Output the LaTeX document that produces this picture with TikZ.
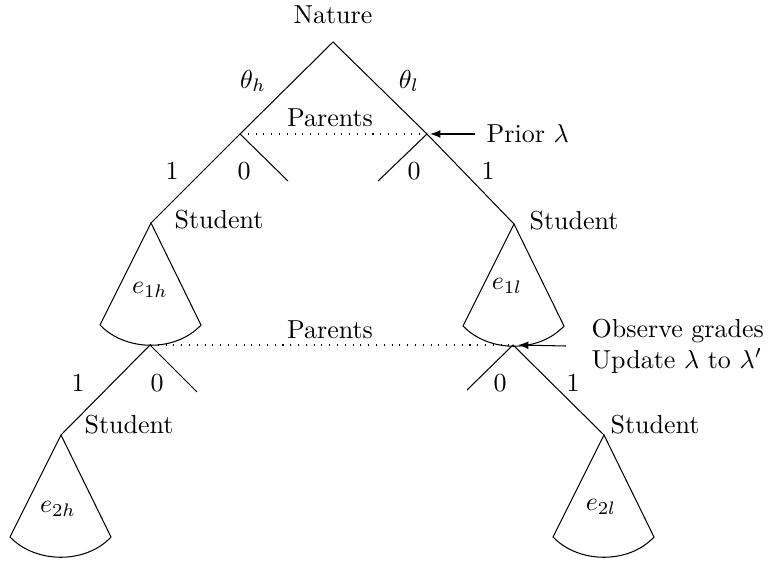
\documentclass[tikz,border=0pt]{standalone}
\usepackage{amsmath}
\usepackage{amssymb}
\usepackage{tikz}
\usetikzlibrary{calc}
\tikzset{my arrow/.style={
  black,
  -latex
  }
}
\tikzset{my dots/.style={
  dash pattern=on 0.4pt off 2.6pt
  }
}

\begin{document}
\begin{tikzpicture}[x=0.385pt,y=-0.385pt]
    \useasboundingbox (0,0) rectangle (768,562);

    \coordinate (R) at (333,42);
    \coordinate (P1) at (240,134);
    \coordinate (P2) at (427,134);
    \coordinate (S1) at (151,223);
    \coordinate (S2) at (514,224);
    \coordinate (Q1) at (150,345);
    \coordinate (Q2) at (513,345);
    \coordinate (T1) at (61,435);
    \coordinate (T2) at (604,435);
    \coordinate (Z1) at (288,181);
    \coordinate (Z2) at (378,181);
    \coordinate (Z3) at (197,392);
    \coordinate (Z4) at (467,390);
    \coordinate (A) at (475,134);
    \coordinate (B) at (566,346);

    \node (nature) at (333,15) {Nature};
    \node (th) at (253,81) {$\theta_h$};
    \node (tl) at (409,81) {$\theta_l$};

    \draw (P1) -- (R) -- (P2);
    \draw (S1) -- (P1) -- (Z1);
    \draw (Z2) -- (P2) -- (S2);
    \draw (T1) -- (Q1) -- (Z3);
    \draw (Z4) -- (Q2) -- (T2);

    \draw[my dots] (P1) -- (P2);
    \draw[my dots] (Q1) -- (Q2);
    \node (pa1) at (330,118) {Parents};
    \node (pa2) at (330,330) {Parents};

    \foreach \p/\l in {172/1,244/0,414/0,488/1}
        \node at (\p,171) {\l};
    \foreach \p/\l in {78/1,157/0,500/0,573/1}
        \node at (\p,383) {\l};

    \foreach \s/\x/\y in {S1/219/220,S2/574/221,T1/129/425,T2/655/425}
        \node (lab\s) at (\x,\y) {Student};

    \foreach \s/\e/\dx/\dy in {S1/e_{1h}/-1/67,S2/e_{1l}/-7/62,T1/e_{2h}/-3/74,T2/e_{2l}/-3/72}
    {
        \draw (\s) -- ($(\s)+(-51,102)$) .. controls ($(\s)+(-25,129)$) and ($(\s)+(25,129)$) .. ($(\s)+(50,102)$) -- cycle;
        \node at ($(\s)+(\dx,\dy)$) {$\e$};
    }

    \draw[my arrow] (A) -- ($(P2)+(3,0)$);
    \node[anchor=west,inner sep=2pt] (prior) at ($(A)+(6,0)$) {Prior $\lambda$};
    \draw[my arrow] (B) -- ($(Q2)+(5,0)$);
    \node[anchor=west,align=left,inner sep=2pt] (obs) at ($(B)+(20,0)$) {Observe grades\\Update $\lambda$ to $\lambda'$};

\end{tikzpicture}
\end{document}
